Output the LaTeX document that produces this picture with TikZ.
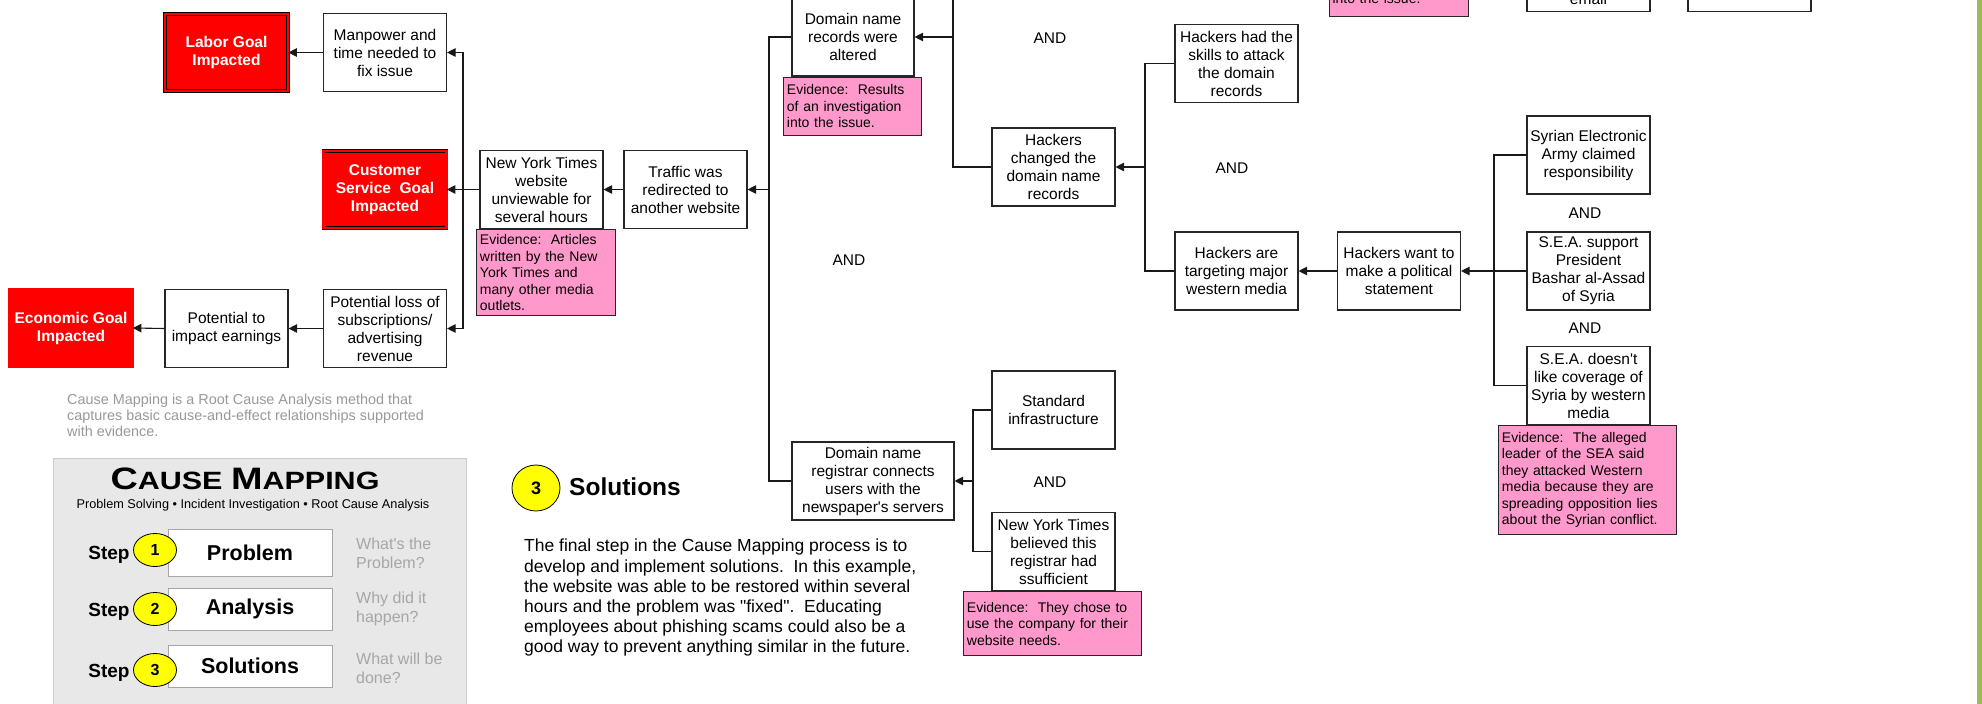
\documentclass[tikz,border=0pt]{standalone}
\usepackage{fontspec}
\setmainfont{Liberation Sans}
\newfontfamily\titlefont[FakeStretch=1.22]{Liberation Sans}
\usetikzlibrary{arrows.meta, positioning, shapes.geometric}

\definecolor{evpink}{HTML}{FF99CC}
\definecolor{goalred}{HTML}{FF0000}
\definecolor{markyellow}{HTML}{FFFF00}
\definecolor{notegray}{HTML}{999999}
\definecolor{hintgray}{HTML}{A6A6A6}
\definecolor{panelgray}{HTML}{E8E8E8}
\definecolor{edgegreen}{HTML}{9BBB59}

\newcommand{\boxfont}{\fontsize{15.5}{18}\selectfont}
\newcommand{\evfont}{\fontsize{14}{16.5}\selectfont}
\newcommand{\goalfont}{\fontsize{15.5}{18}\selectfont\bfseries}

\tikzset{
  cbox/.style={draw=black!85, line width=1.1pt, fill=white, minimum width=123pt,
    minimum height=78pt, inner sep=1pt, align=center, font=\boxfont},
  goal/.style={draw=black, line width=0.7pt, double=goalred, double distance=2.4pt,
    fill=goalred, text=white, minimum width=123pt, minimum height=77pt,
    inner sep=1pt, align=center, font=\goalfont},
  evid/.style={draw=black!85, line width=1pt, fill=evpink, align=left,
    inner sep=3pt, font=\evfont},
  andlab/.style={font=\boxfont},
  link/.style={draw=black!90, line width=1.1pt},
  stepbox/.style={draw=black!35, line width=1pt, fill=white, minimum width=164pt,
    font=\fontsize{21.5}{24}\selectfont\bfseries},
  stepnum/.style={ellipse, draw=black, line width=0.8pt, fill=markyellow,
    minimum width=43pt, minimum height=33pt, inner sep=0pt,
    font=\fontsize{16}{16}\selectfont\bfseries},
  steplab/.style={font=\fontsize{19}{19}\selectfont\bfseries},
  hint/.style={text=hintgray, align=left, anchor=west, inner sep=0pt,
    font=\fontsize{16}{19}\selectfont},
}

\begin{document}
\frenchspacing
\begin{tikzpicture}[x=1pt, y=-1pt, >={Triangle[length=8.5pt, width=8.5pt]}]
    \fill[white] (0,0) rectangle (1982,704);
    \useasboundingbox (0,0) rectangle (1982,704);
    \clip (0,0) rectangle (1982,704);

    % effects
    \node[goal] (labor) at (226.5,52.5) {Labor Goal\\Impacted};
    \node[cbox] (manpower) at (385,52.5) {Manpower and\\time needed to\\fix issue};
    \node[goal] (custgoal) at (385,189.5) {Customer\\Service~ Goal\\Impacted};
    \node[goal] (econgoal) at (71,328) {Economic Goal\\Impacted};
    \node[cbox] (earnings) at (226.5,328.5) {Potential to\\impact earnings};
    \node[cbox] (ploss) at (385,328.5) {Potential loss of\\subscriptions/\\advertising\\revenue};
    \node[cbox] (nyt) at (541.5,189.5) {New York Times\\website\\unviewable for\\several hours};
    \node[cbox] (traffic) at (685.5,189.5) {Traffic was\\redirected to\\another website};

    % causes
    \node[cbox, minimum width=122pt] (altered) at (853,37) {Domain name\\records were\\altered};
    \node[cbox, minimum width=162pt] (registrar) at (873,481) {Domain name\\registrar connects\\users with the\\newspaper\textquotesingle s servers};
    \node[cbox] (changed) at (1053.5,167) {Hackers\\changed the\\domain name\\records};
    \node[cbox] (skills) at (1236.5,63.5) {Hackers had the\\skills to attack\\the domain\\records};
    \node[cbox] (targeting) at (1236.5,271) {Hackers are\\targeting major\\western media};
    \node[cbox] (want) at (1399,271) {Hackers want to\\make a political\\statement};
    \node[cbox] (syrian) at (1588.5,155) {Syrian Electronic\\Army claimed\\responsibility};
    \node[cbox] (support) at (1588.5,271) {S.E.A. support\\President\\Bashar al-Assad\\of Syria};
    \node[cbox] (dislike) at (1588.5,385.5) {S.E.A. doesn\textquotesingle t\\like coverage of\\Syria by western\\media};
    \node[cbox] (standard) at (1053.5,410) {Standard\\infrastructure};
    \node[cbox] (believed) at (1053.5,551.5) {New York Times\\believed this\\registrar had\\ssufficient};

    % cut off at the top edge
    \node[evid, text width=133pt, text height=40pt, text depth=10pt, anchor=south west] (topev) at (1329,17) {into the issue.};
    \node[cbox, text height=70pt, text depth=5pt, anchor=south] (topemail) at (1588.5,12) {email};
    \node[cbox, text height=70pt, anchor=south] (topright) at (1749.5,12) {};

    % evidence
    \node[evid, text width=133pt, minimum height=86pt, below right=0pt and -3pt of nyt.south west] (nytev)
        {Evidence:~ Articles\\written by the New\\York Times and\\many other media\\outlets.};
    \node[evid, text width=132pt, minimum height=58pt, below right=0pt and -8pt of altered.south west] (altev)
        {Evidence:~ Results\\of an investigation\\into the issue.};
    \node[evid, text width=172pt, minimum height=64pt, below right=0pt and -28pt of believed.south west] (belev)
        {Evidence:~ They chose to\\use the company for their\\website needs.};
    \node[evid, text width=172pt, minimum height=109pt, below right=0pt and -28pt of dislike.south west] (seaev)
        {Evidence:~ The alleged\\leader of the SEA said\\they attacked Western\\media because they are\\spreading opposition lies\\about the Syrian conflict.};

    \node[andlab] (and1) at (1050,38) {AND};
    \node[andlab] (and2) at (849,260) {AND};
    \node[andlab] (and3) at (1232,168) {AND};
    \node[andlab] (and4) at (1585,213) {AND};
    \node[andlab] (and5) at (1585,328) {AND};
    \node[andlab] (and6) at (1050,482) {AND};

    \coordinate (busA) at (463,189.5);
    \coordinate (busB) at (769,189.5);
    \coordinate (busC) at (953,37);
    \coordinate (topC) at (953,0);
    \coordinate (busD) at (1145,167);
    \coordinate (busE) at (1494,271);
    \coordinate (busF) at (973,481);

    \draw[link,->] (manpower.west) -- (labor.east);
    \draw[link,->] (earnings.west) -- (econgoal.east);
    \draw[link,->] (ploss.west) -- (earnings.east);
    \draw[link] (nyt.west) -- (busA);
    \draw[link,->] (busA) |- (manpower.east);
    \draw[link,->] (busA) -- (custgoal.east);
    \draw[link,->] (busA) |- (ploss.east);
    \draw[link,->] (traffic.west) -- (nyt.east);
    \draw[link] (altered.west) -| (busB);
    \draw[link] (registrar.west) -| (busB);
    \draw[link,->] (busB) -- (traffic.east);
    \draw[link] (topC) -- (busC);
    \draw[link] (changed.west) -| (busC);
    \draw[link,->] (busC) -- (altered.east);
    \draw[link] (skills.west) -| (busD);
    \draw[link] (targeting.west) -| (busD);
    \draw[link,->] (busD) -- (changed.east);
    \draw[link,->] (want.west) -- (targeting.east);
    \draw[link] (syrian.west) -| (busE);
    \draw[link] (support.west) -- (busE);
    \draw[link] (dislike.west) -| (busE);
    \draw[link,->] (busE) -- (want.east);
    \draw[link] (standard.west) -| (busF);
    \draw[link] (believed.west) -| (busF);
    \draw[link,->] (busF) -- (registrar.east);

    % notes and legend
    \node[anchor=north west, align=left, inner sep=0pt, text=notegray, font=\fontsize{14.4}{16}\selectfont] (caption) at (67,394)
        {Cause Mapping is a Root Cause Analysis method that\\captures basic cause-and-effect relationships supported\\with evidence.};
    \filldraw[fill=panelgray, draw=black!20] (53,458) rectangle (466,720);
    \node (cmtitle) at (245,479) {\titlefont\bfseries\fontsize{31}{31}\selectfont C\fontsize{25}{25}\selectfont AUSE \fontsize{31}{31}\selectfont M\fontsize{25}{25}\selectfont APPING};
    \node[font=\fontsize{12.7}{14}\selectfont] (cmsub) at (253,505) {Problem Solving \textbullet{} Incident Investigation \textbullet{} Root Cause Analysis};

    \node[stepbox, minimum height=47pt] (problem) at (250,552.5) {Problem};
    \node[stepbox, minimum height=42pt] (analysis) at (250,609) {Analysis};
    \node[stepbox, minimum height=42pt] (solutions) at (250,666) {Solutions};
    \node[stepnum] (num1) at (155,550) {1};
    \node[stepnum] (num2) at (155,609) {2};
    \node[stepnum] (num3) at (155,670) {3};
    \node[steplab] (step1) at (109,555) {Step};
    \node[steplab] (step2) at (109,612) {Step};
    \node[steplab] (step3) at (109,673) {Step};
    \node[hint] (hint1) at (356,553) {What\textquotesingle s the\\Problem?};
    \node[hint] (hint2) at (356,608.5) {Why did it\\happen?};
    \node[hint] (hint3) at (356,668) {What will be\\done?};

    \node[stepnum, minimum width=48pt, minimum height=46pt, font=\fontsize{18}{18}\selectfont\bfseries] (bignum) at (536,488) {3};
    \node[anchor=west, inner sep=0pt, font=\fontsize{24.5}{26}\selectfont\bfseries] (soltitle) at (569,487) {Solutions};
    \node[anchor=north west, align=left, inner sep=0pt, font=\fontsize{17.5}{20.2}\selectfont] (soltext) at (524,539)
        {The final step in the Cause Mapping process is to\\develop and implement solutions.\ \ In this example,\\the website was able to be restored within several\\hours and the problem was \textquotedbl fixed\textquotedbl .\ \ Educating\\employees about phishing scams could also be a\\good way to prevent anything similar in the future.};

    \fill[edgegreen] (1977,0) rectangle (1982,704);
\end{tikzpicture}
\end{document}
